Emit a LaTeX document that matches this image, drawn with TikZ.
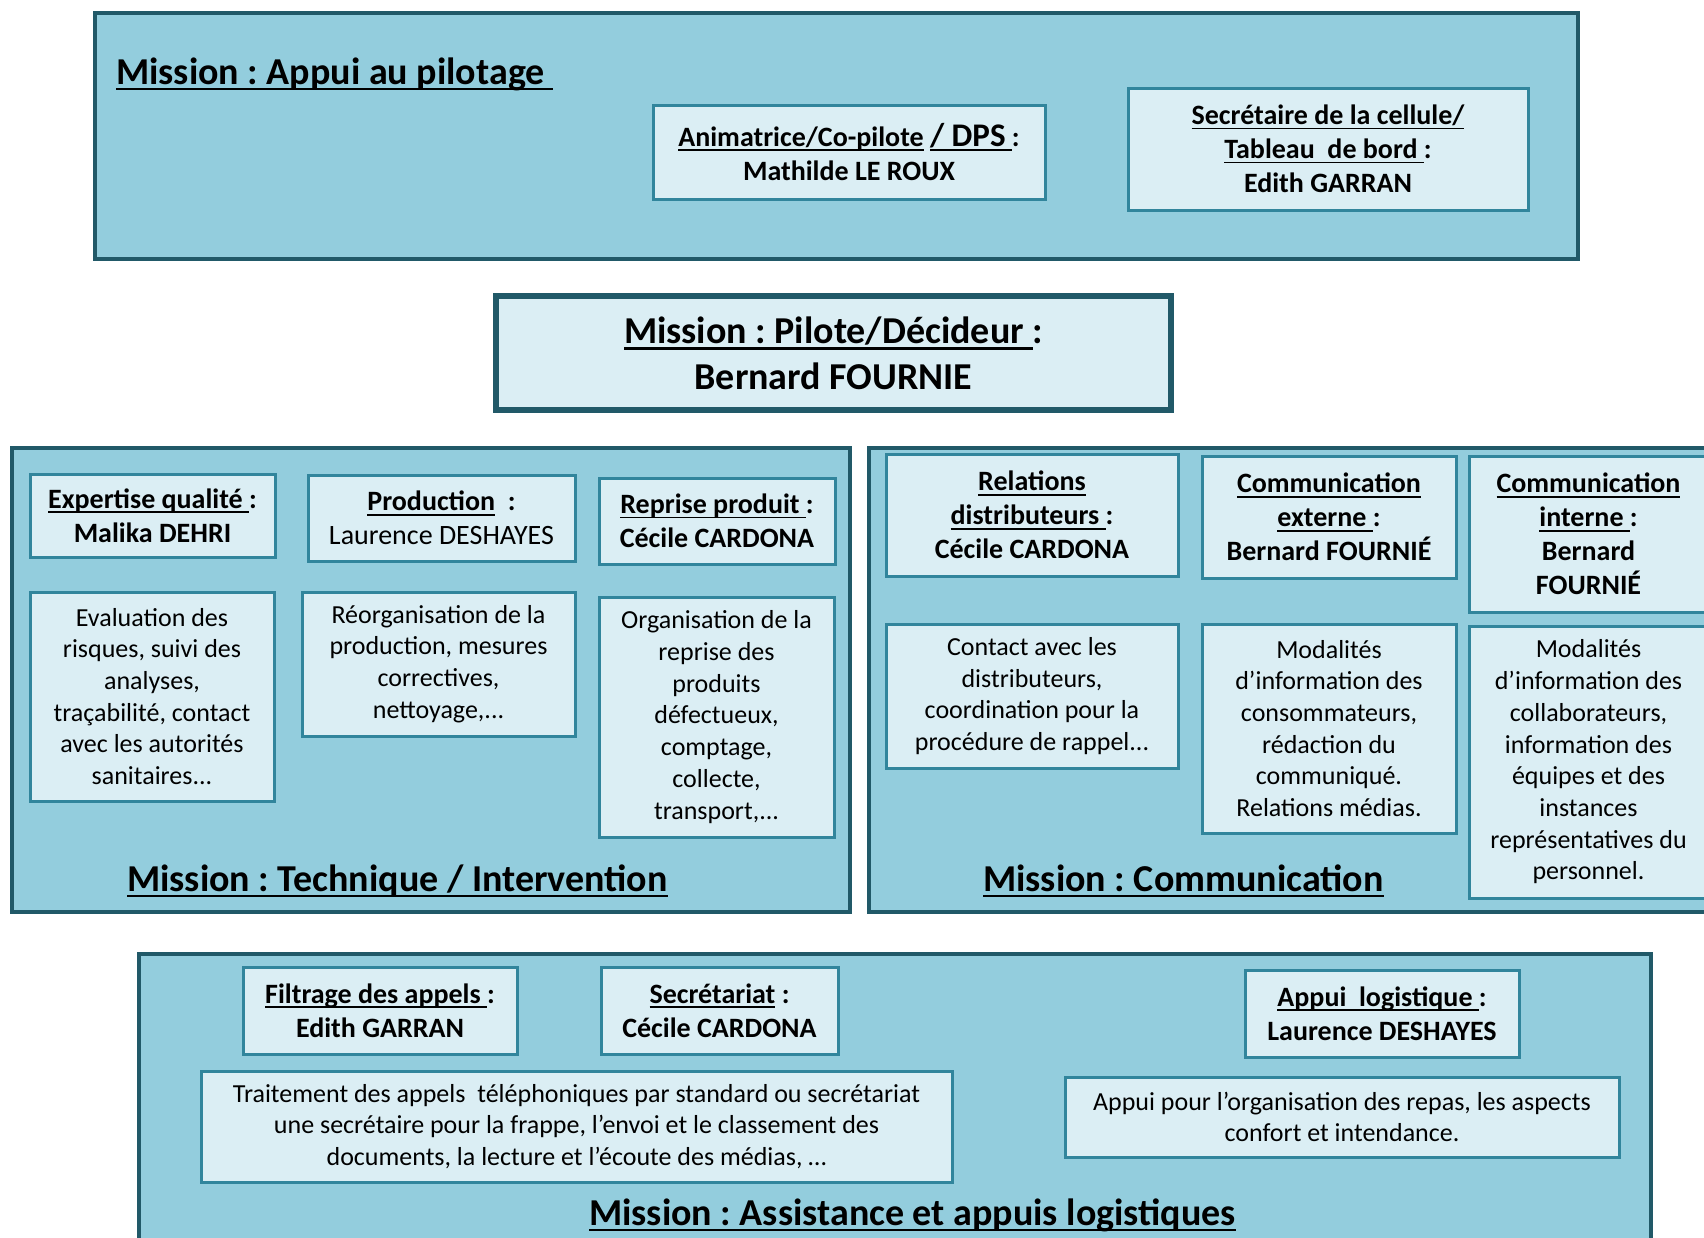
\documentclass[tikz,border=0pt]{standalone}
\usepackage{fontspec}
\setmainfont{Carlito}
\frenchspacing

\definecolor{panelfill}{HTML}{93CDDD}
\definecolor{paneldraw}{HTML}{215968}
\definecolor{cellfill}{HTML}{DBEEF4}
\definecolor{celldraw}{HTML}{31859C}

% underline a piece of text that stays on one line
\newcommand\ul[1]{\setbox0\hbox{#1}\rlap{\rule[-0.17em]{\wd0}{0.065em}}\box0}

\newcommand\headfont{\fontsize{28}{34}\selectfont\bfseries}
\newcommand\bodyfont{\fontsize{26}{31.7}\selectfont}
\newcommand\titlefont{\fontsize{38}{46}\selectfont\bfseries}

\tikzset{
  panel/.style={draw=paneldraw, fill=panelfill, line width=4pt},
  cell/.style={draw=celldraw, fill=cellfill, line width=3pt, inner sep=0pt,
    align=center, font=\headfont},
  bodycell/.style={cell, font=\bodyfont},
  paneltitle/.style={anchor=base west, inner sep=0pt, font=\titlefont},
}

\begin{document}
\begin{tikzpicture}[x=1pt, y=-1pt]
\useasboundingbox (0,0) rectangle (1704,1237);
\clip (0,0) rectangle (1704,1237);

% ---- Appui au pilotage ----
\path[panel] (95,13) rectangle (1578,259);
\node[paneltitle] (tPil) at (116,84) {\ul{Mission : Appui au pilotage\ }};
\node[cell, minimum width=392, minimum height=94] (anim) at (849,152)
  {\ul{Animatrice/Co-pilote}\ \ul{{\fontsize{33}{34}\selectfont / DPS}\ }:\\Mathilde LE ROUX};
\node[cell, minimum width=400, minimum height=122] (secr) at (1328,149)
  {\ul{Secrétaire de la cellule/}\\\ul{Tableau\ \ de bord\ }:\\Edith GARRAN};

% ---- Pilote / Décideur ----
\node[cell, draw=paneldraw, line width=6pt, minimum width=675, minimum height=114,
  font=\titlefont] (pilote) at (833.5,353)
  {\ul{Mission : Pilote/Décideur\ }:\\Bernard FOURNIE};

% ---- Technique / Intervention ----
\path[panel] (12,448) rectangle (850,912);
\node[paneltitle] (tTech) at (127,891) {\ul{Mission : Technique / Intervention}};
\node[cell, minimum width=245, minimum height=83] (expq) at (152.5,515.5)
  {\ul{Expertise qualité\ }:\\Malika DEHRI};
\node[cell, minimum width=267, minimum height=86] (prod) at (441.5,518)
  {\ul{Production}\ \ :\\{\mdseries Laurence DESHAYES}};
\node[cell, minimum width=236, minimum height=86] (repr) at (717,521)
  {\ul{Reprise produit\ }:\\Cécile CARDONA};
\node[bodycell, minimum width=244, minimum height=209] (expqTxt) at (152,696.5)
  {Evaluation des\\risques, suivi des\\analyses,\\traçabilité, contact\\avec les autorités\\sanitaires...};
\node[bodycell, minimum width=273, minimum height=144] (prodTxt) at (438.5,664)
  {Réorganisation de la\\production, mesures\\correctives,\\nettoyage,...};
\node[bodycell, minimum width=235, minimum height=240] (reprTxt) at (716.5,717)
  {Organisation de la\\reprise des\\produits\\défectueux,\\comptage,\\collecte,\\transport,...};

% ---- Communication ----
\path[panel] (869,448) rectangle (1730,912);
\node[paneltitle] (tComm) at (983,891) {\ul{Mission : Communication}};
\node[cell, minimum width=292, minimum height=122] (rel) at (1032,515)
  {\ul{Relations}\\\ul{distributeurs\ }:\\Cécile CARDONA};
\node[cell, minimum width=254, minimum height=122] (cext) at (1329,517)
  {\ul{Communication}\\\ul{externe\ }:\\Bernard FOURNIÉ};
\node[cell, minimum width=239, minimum height=156] (cint) at (1588.5,534)
  {\ul{Communication}\\\ul{interne\ }:\\Bernard\\FOURNIÉ};
\node[bodycell, minimum width=292, minimum height=144] (relTxt) at (1032,696)
  {Contact avec les\\distributeurs,\\coordination pour la\\procédure de rappel...};
\node[bodycell, minimum width=254, minimum height=209] (cextTxt) at (1329,728.5)
  {Modalités\\d’information des\\consommateurs,\\rédaction du\\communiqué.\\Relations médias.};
\node[bodycell, minimum width=239, minimum height=272] (cintTxt) at (1588.5,762)
  {Modalités\\d’information des\\collaborateurs,\\information des\\équipes et des\\instances\\représentatives du\\personnel.};

% ---- Assistance et appuis logistiques ----
\path[panel] (139,954) rectangle (1651,1260);
\node[paneltitle] (tAss) at (589,1225) {\ul{Mission : Assistance et appuis logistiques}};
\node[cell, minimum width=274, minimum height=87] (filt) at (380,1010.5)
  {\ul{Filtrage des appels\ }:\\Edith GARRAN};
\node[cell, minimum width=237, minimum height=87] (secret) at (719.5,1010.5)
  {\ul{Secrétariat}\ :\\Cécile CARDONA};
\node[cell, minimum width=274, minimum height=87] (logi) at (1382,1013.5)
  {\ul{Appui\ \ logistique\ }:\\Laurence DESHAYES};
\node[bodycell, minimum width=751, minimum height=111] (callTxt) at (576.5,1126.5)
  {Traitement des appels\ \ téléphoniques par standard ou secrétariat\\une secrétaire pour la frappe, l’envoi et le classement des\\documents, la lecture et l’écoute des médias, …};
\node[bodycell, minimum width=554, minimum height=80] (logiTxt) at (1342,1117)
  {Appui pour l’organisation des repas, les aspects\\confort et intendance.};
\end{tikzpicture}
\end{document}
